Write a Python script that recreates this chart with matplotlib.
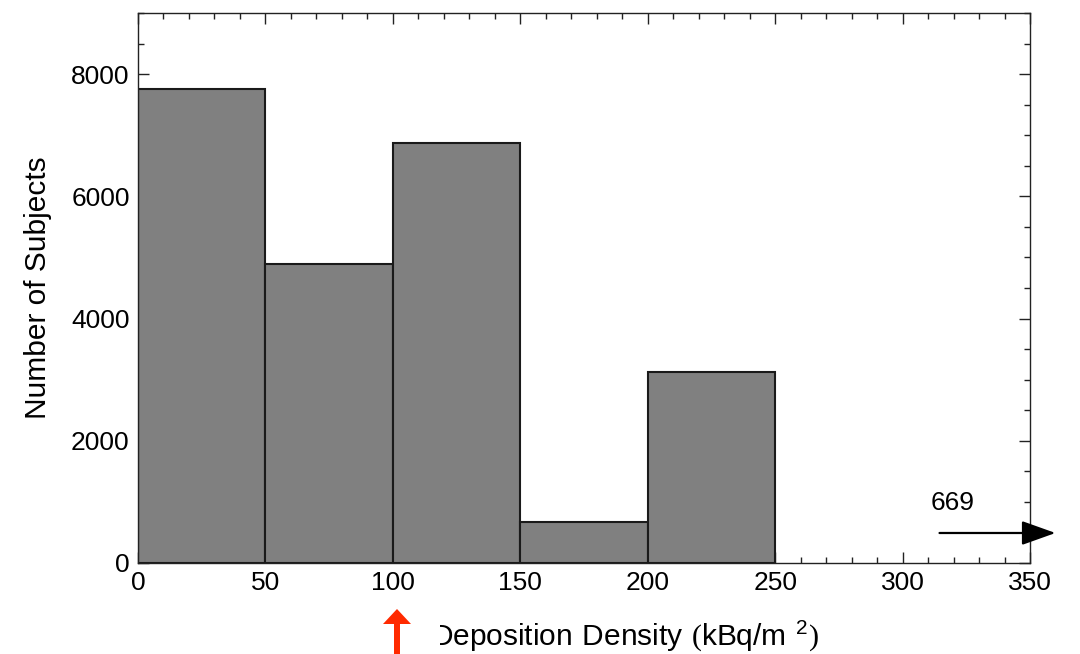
import matplotlib
matplotlib.use('Agg')
import matplotlib.pyplot as plt
from matplotlib.patches import FancyArrow
from matplotlib.ticker import MultipleLocator
from matplotlib.transforms import Bbox

# ─── data ───────────────────────────────────────────────
bin_left = [0, 50, 100, 150, 200]
bin_width = [50, 50, 50, 50, 50]
counts = [7750, 4890, 6870, 670, 3130]
overflow_label = '669'

plt.rcParams['font.family'] = ['Liberation Sans', 'DejaVu Sans']
plt.rcParams['mathtext.fontset'] = 'custom'
plt.rcParams['mathtext.rm'] = 'Liberation Serif'
plt.rcParams['mathtext.sf'] = 'Liberation Sans'

W, H = 1080, 654
fig = plt.figure(figsize=(W / 100, H / 100), dpi=100)
ax = fig.add_axes([138 / W, 1 - 563 / H, (1030 - 138) / W, (563 - 13) / H])

ax.bar(bin_left, counts, width=bin_width, align='edge',
       color='#808080', edgecolor='#1a1a1a', linewidth=1.5, zorder=2)

ax.set_xlim(0, 350)
ax.set_ylim(0, 9000)
ax.xaxis.set_major_locator(MultipleLocator(50))
ax.xaxis.set_minor_locator(MultipleLocator(10))
ax.yaxis.set_major_locator(MultipleLocator(2000))
ax.yaxis.set_minor_locator(MultipleLocator(500))
ax.tick_params(which='both', direction='in', top=True, right=True,
               labelsize=19, width=1, color='#222222')
ax.tick_params(which='major', length=8)
ax.tick_params(axis='x', which='major', pad=6)
ax.tick_params(axis='y', which='major', pad=6)
ax.tick_params(which='minor', length=4)
for s in ax.spines.values():
    s.set_linewidth(1)
    s.set_color('#222222')

fig.text(38 / W, 1 - 288 / H, 'Number of Subjects', fontsize=21.5,
         rotation=90, ha='center', va='center')

# overflow arrow
ax.annotate('', xy=(360, 491), xytext=(314.5, 491), annotation_clip=False,
            arrowprops=dict(arrowstyle='-|>,head_length=21,head_width=7.5',
                            mutation_scale=1, color='black', lw=1.6,
                            shrinkA=0, shrinkB=0))
ax.text(319.6, 867, overflow_label, fontsize=19, ha='center', va='baseline')

# x label, left edge clipped
xl = fig.text(431 / W, 1 - 636 / H,
              r'$\mathsf{Deposition\ Density}\ \mathrm{(}\mathsf{kBq/m}\ ^{\mathsf{2}}\mathrm{)}$',
              fontsize=21.5, ha='left', va='center')
xl.set_clip_box(Bbox([[440, 0], [W, H]]))
xl.set_clip_on(True)

# red arrow (inches, figure coords)
fig.add_artist(FancyArrow(3.97, -0.05, 0, 0.50, width=0.06, head_width=0.28,
                          head_length=0.15, length_includes_head=True,
                          transform=fig.dpi_scale_trans, color='#ff2a00',
                          linewidth=0))

fig.savefig('out.png', dpi=100)
